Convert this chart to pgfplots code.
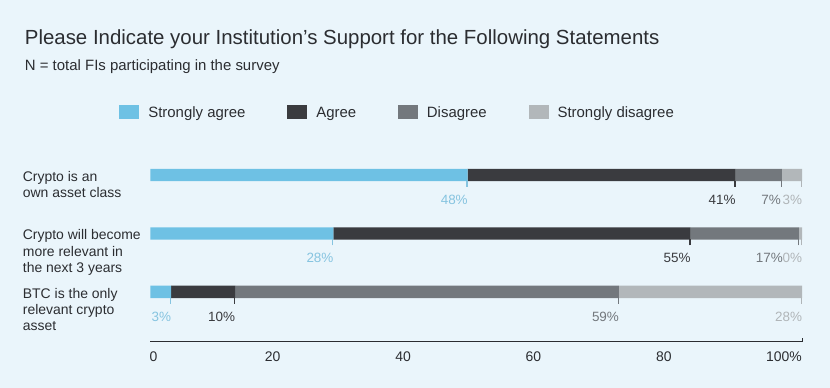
\documentclass[border=0pt]{standalone}
\usepackage{fontspec}
\setmainfont{Liberation Sans}
\usepackage{xcolor}
\usepackage{pgfplots}
\pgfplotsset{compat=1.18}
\definecolor{bg}{HTML}{EAF5FB}
\definecolor{sa}{HTML}{6EC1E4}
\definecolor{salab}{HTML}{86C4E0}
\definecolor{ag}{HTML}{3A3B3F}
\definecolor{di}{HTML}{73787D}
\definecolor{sd}{HTML}{B2B7BA}
\definecolor{sdlab}{HTML}{B0B5B8}
\definecolor{txt}{HTML}{2B2D31}
\newcommand{\seglabel}[1]{\smash{\llap{\textcolor{#1}{\vrule width 1.3pt height -6pt depth 12pt}}\llap{\raisebox{-29.5pt}{\color{#1}\pgfplotspointmeta}}}}
\begin{document}
\pagecolor{bg}
\begin{tikzpicture}
\useasboundingbox (0,0) rectangle (830pt,389pt);
\node[anchor=base west, inner sep=0pt, font=\fontsize{20.5}{24}\selectfont, text=txt] at (22pt,344pt) {Please Indicate your Institution’s Support for the Following Statements};
\node[anchor=base west, inner sep=0pt, font=\fontsize{15}{18}\selectfont, text=txt] at (22pt,318.5pt) {N = total FIs participating in the survey};
\begin{axis}[
  at={(148pt,46.3pt)}, anchor=south west,
  scale only axis, width=654pt, height=196.4pt,
  xbar stacked, bar width=12.4pt,
  legend image code/.code={\fill[#1] (0pt,-5.5pt) rectangle (20pt,8.8pt);},
  xmin=0, xmax=100, ymin=-0.85, ymax=2.5,
  clip=false,
  point meta=explicit symbolic,
  visualization depends on={rawx \as \rawx},
  every node near coord/.append style={inner sep=0pt, outer sep=0pt, anchor=center, xshift={3.27pt*\rawx}, font=\fontsize{13.5}{16}\selectfont},
  axis x line*=bottom, axis y line*=left,
  x axis line style={-, draw=txt, line width=0.9pt},
  y axis line style={draw=none},
  major tick length=0pt,
  tick style={draw=txt, line width=0.8pt},
  xtick={0,20,40,60,80,100},
  xticklabels={\rlap{0},20,40,60,80,100\%},
  extra x ticks={100}, extra x tick labels={},
  extra x tick style={major tick length=4pt, tick align=inside},
  xticklabel style={anchor=north east, inner sep=0pt, yshift=-10pt, font=\fontsize{14}{16}\selectfont, text=txt},
  ytick={0,1,2},
  yticklabels={{BTC is the only\\relevant crypto\\asset},{Crypto will become\\more relevant in\\the next 3 years},{Crypto is an\\own asset class}},
  yticklabel style={anchor=north west, align=left, inner sep=0pt, xshift=-128pt, yshift=4.2pt, font=\fontsize{14}{16.5}\selectfont, text=txt},
  /pgf/number format/assume math mode=true,
  legend style={at={(-0.0474,1.169)}, anchor=west, draw=none, fill=none, inner sep=0pt, outer sep=0pt, legend columns=-1, font=\fontsize{15}{18}\selectfont, text=txt, nodes={inner sep=0pt, text height=11pt, text depth=3.5pt},
    /tikz/every odd column/.append style={column sep=9pt},
    /tikz/every even column/.append style={column sep=42pt}},
  legend cell align=left,
]
\addplot[fill=sa, draw=none, nodes near coords={\seglabel{salab}}] coordinates {(3.2,0) [3\%] (28.1,1) [28\%] (48.7,2) [48\%]};
\addplot[fill=ag, draw=none, nodes near coords={\seglabel{ag}}] coordinates {(9.8,0) [10\%] (54.8,1) [55\%] (41.1,2) [41\%]};
\addplot[fill=di, draw=none, nodes near coords={\seglabel{di}}] coordinates {(58.9,0) [59\%] (16.6,1) [17\%\kern16pt] (7.1,2) [7\%\kern1pt]};
\addplot[fill=sd, draw=none, nodes near coords={\seglabel{sdlab}}] coordinates {(28.1,0) [28\%] (0.5,1) [0\%] (3.1,2) [3\%]};
\legend{Strongly agree, Agree, Disagree, Strongly disagree}
\end{axis}
\end{tikzpicture}
\end{document}
